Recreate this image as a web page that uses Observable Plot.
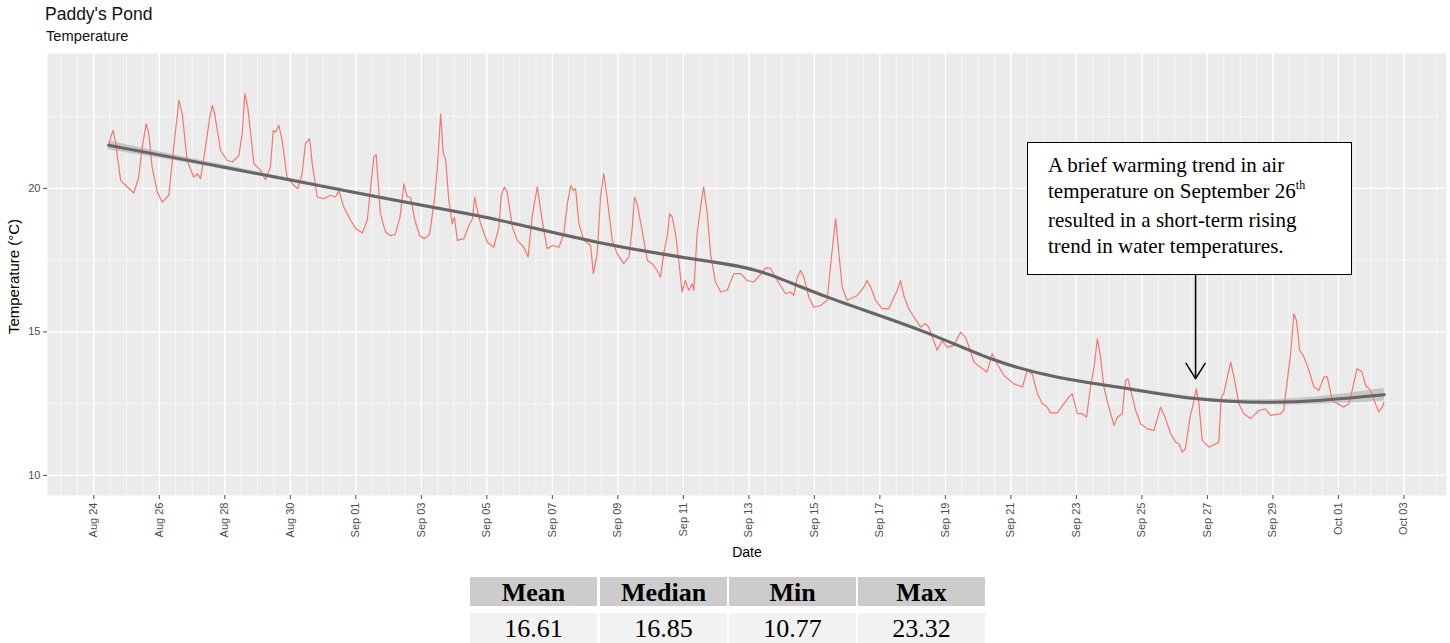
<!DOCTYPE html>
<html>
<head>
<meta charset="utf-8">
<script src="https://cdn.jsdelivr.net/npm/d3@7"></script>
<script src="https://cdn.jsdelivr.net/npm/@observablehq/plot@0.6"></script>
<style>
  html, body { margin: 0; padding: 0; background: #fff; }
  #wrap { position: relative; width: 1450px; height: 643px; overflow: hidden; font-family: "Liberation Sans", Arial, sans-serif; }
  #title { position: absolute; left: 45px; top: 4px; font-size: 17.5px; color: #111; white-space: nowrap; }
  #subtitle { position: absolute; left: 46px; top: 28px; font-size: 14.7px; color: #111; white-space: nowrap; }
  #chart { position: absolute; left: 0; top: 50px; }
  #note { position: absolute; left: 1027px; top: 142px; width: 325px; height: 133px; box-sizing: border-box;
          border: 1.3px solid #000; background: #fff; font-family: "Liberation Serif", "Times New Roman", serif;
          font-size: 21px; line-height: 26px; padding: 9px 0 0 20px; color: #000; white-space: nowrap; }
  #note sup { font-size: 12px; vertical-align: 0; position: relative; top: -9px; }
  .cell { position: absolute; width: 127px; text-align: center; font-family: "Liberation Serif", "Times New Roman", serif;
          font-size: 26px; color: #000; }
  .hd { background: #cccccc; font-weight: bold; height: 29px; line-height: 31px; top: 577px; }
  .vl { background: #f2f2f2; height: 30px; line-height: 32px; top: 613px; }
</style>
</head>
<body>
<div id="wrap">
  <div id="title">Paddy's Pond</div>
  <div id="subtitle">Temperature</div>
  <div id="chart"></div>
  <div id="note">A brief warming trend in air<br>temperature on September 26<sup>th</sup><br>resulted in a short-term rising<br>trend in water temperatures.</div>
</div>
<script>
// ---------- data ----------
const startDate = "2019-08-24T00:00Z";           // day offsets below are measured from this instant
// water temperature (°C) – day offset since Aug 24 00:00
const tempDays = [0.46,0.53,0.59,0.66,0.82,0.92,1.22,1.37,1.48,1.60,1.68,1.78,1.94,2.09,2.29,2.44,2.60,2.70,2.85,3.05,3.16,3.26,3.41,3.54,3.62,3.69,3.87,4.07,4.23,4.43,4.53,4.61,4.70,4.89,5.09,5.24,5.39,5.48,5.55,5.65,5.75,5.90,6.11,6.23,6.36,6.46,6.59,6.67,6.82,7.02,7.23,7.38,7.48,7.63,7.84,8.00,8.20,8.35,8.45,8.55,8.62,8.75,8.90,9.05,9.20,9.35,9.47,9.57,9.67,9.80,9.95,10.10,10.25,10.40,10.49,10.59,10.67,10.74,10.84,10.94,11.01,11.10,11.30,11.45,11.56,11.63,11.71,11.81,12.01,12.21,12.37,12.44,12.54,12.62,12.78,12.93,13.13,13.26,13.38,13.54,13.69,13.84,14.00,14.20,14.35,14.46,14.56,14.64,14.71,14.81,14.96,15.17,15.25,15.37,15.47,15.57,15.67,15.83,15.98,16.18,16.34,16.44,16.51,16.59,16.74,16.90,17.05,17.20,17.30,17.40,17.52,17.58,17.66,17.76,17.86,17.96,18.06,18.16,18.27,18.32,18.42,18.54,18.62,18.73,18.83,18.98,19.14,19.34,19.54,19.75,19.95,20.15,20.36,20.51,20.66,20.82,21.12,21.27,21.37,21.48,21.58,21.68,21.83,21.98,22.19,22.39,22.52,22.65,22.75,22.85,23.00,23.31,23.51,23.61,23.72,23.87,24.07,24.27,24.43,24.53,24.63,24.73,24.88,25.04,25.24,25.39,25.49,25.60,25.75,25.90,26.05,26.26,26.46,26.61,26.76,26.87,27.07,27.27,27.43,27.58,27.79,28.09,28.35,28.50,28.65,28.81,28.96,29.11,29.21,29.42,29.62,29.77,29.87,30.03,30.18,30.31,30.43,30.54,30.64,30.74,30.84,30.99,31.15,31.25,31.40,31.50,31.57,31.66,31.81,31.96,32.16,32.37,32.57,32.72,32.88,33.03,33.13,33.23,33.33,33.47,33.57,33.66,33.74,33.84,33.95,34.05,34.25,34.35,34.42,34.50,34.61,34.71,34.81,34.96,35.11,35.32,35.57,35.77,35.93,36.23,36.33,36.44,36.54,36.64,36.72,36.82,36.95,37.10,37.25,37.40,37.56,37.66,37.81,37.97,38.17,38.32,38.42,38.57,38.72,38.83,38.98,39.13,39.23,39.34,39.39];
const tempValues = [21.50,21.85,22.02,21.61,20.28,20.16,19.84,20.39,21.44,22.25,21.91,20.74,19.87,19.52,19.76,21.44,23.07,22.60,20.98,20.39,20.51,20.34,21.44,22.48,22.89,22.60,21.32,20.98,20.92,21.15,21.91,23.30,22.83,20.86,20.63,20.30,20.74,22.02,21.96,22.20,21.67,20.39,20.10,19.99,20.51,21.56,21.73,20.86,19.70,19.64,19.76,19.70,19.93,19.35,18.89,18.60,18.45,18.90,20.00,21.09,21.18,19.12,18.50,18.35,18.40,19.00,20.16,19.70,19.70,18.90,18.35,18.25,18.40,19.60,20.74,22.60,21.21,21.03,19.58,18.77,19.00,18.19,18.25,18.71,18.94,19.70,19.23,18.77,18.13,17.95,18.65,19.76,20.05,19.87,18.65,18.19,17.95,17.61,19.00,20.05,18.89,17.90,18.01,17.95,18.42,19.47,20.10,19.93,19.99,18.77,18.19,18.01,17.03,17.72,19.70,20.51,19.70,18.19,17.72,17.38,17.61,18.65,19.70,19.47,18.54,17.49,17.38,17.14,16.91,17.72,18.42,19.12,19.00,18.42,17.49,16.39,16.79,16.45,16.68,16.45,18.42,19.47,20.05,19.12,17.72,16.74,16.39,16.45,17.03,17.03,16.79,16.74,17.00,17.23,17.22,16.88,16.33,16.39,16.27,16.91,17.14,16.91,16.21,15.86,15.92,16.10,17.61,18.94,17.72,16.56,16.10,16.27,16.56,16.79,16.56,16.10,15.81,15.81,16.21,16.45,16.79,16.27,15.81,15.52,15.17,15.29,15.17,14.82,14.36,14.70,14.47,14.53,14.99,14.82,14.36,13.95,13.77,13.60,14.24,13.89,13.48,13.19,13.08,13.66,13.54,12.85,12.50,12.38,12.18,12.18,12.50,12.73,12.85,12.15,12.15,12.03,13.08,13.77,14.76,14.12,13.08,12.38,11.74,12.03,12.15,13.31,13.37,12.96,12.26,11.80,11.63,11.57,12.38,11.98,11.45,11.16,11.10,10.81,10.93,12.03,12.50,13.02,12.50,11.22,11.10,10.99,11.10,11.16,12.73,12.85,13.43,13.95,13.43,12.50,12.15,11.98,12.26,12.32,12.09,12.15,12.26,13.31,14.24,15.63,15.40,14.36,14.12,13.66,13.08,12.96,13.43,13.43,12.61,12.50,12.38,12.50,12.96,13.72,13.60,13.14,12.96,12.50,12.21,12.38,12.55];

// smoothed trend (loess) and its confidence half-width
const smoothDays   = [0.45, 3, 6, 8, 10.3, 12.5, 15.6, 18.6, 20.4, 22.4, 25.2, 27.5, 29.5, 31.25, 33.6, 35.8, 37.5, 39.4];
const smoothValues = [21.50, 20.95, 20.29, 19.85, 19.35, 18.86, 18.07, 17.49, 17.08, 16.21, 15.07, 14.02, 13.40, 13.08, 12.68, 12.55, 12.62, 12.81];
const smoothBand   = [0.16, 0.09, 0.06, 0.05, 0.05, 0.05, 0.05, 0.05, 0.05, 0.05, 0.05, 0.05, 0.05, 0.05, 0.06, 0.09, 0.14, 0.22];

// axes
const xDomain = ["2019-08-22T14:04Z", "2019-10-04T07:12Z"];
const yDomain = [9.30, 24.70];
const xTickDates = ["2019-08-24","2019-08-26","2019-08-28","2019-08-30","2019-09-01","2019-09-03","2019-09-05","2019-09-07","2019-09-09","2019-09-11","2019-09-13","2019-09-15","2019-09-17","2019-09-19","2019-09-21","2019-09-23","2019-09-25","2019-09-27","2019-09-29","2019-10-01","2019-10-03"];
const xTickLabels = ["Aug 24","Aug 26","Aug 28","Aug 30","Sep 01","Sep 03","Sep 05","Sep 07","Sep 09","Sep 11","Sep 13","Sep 15","Sep 17","Sep 19","Sep 21","Sep 23","Sep 25","Sep 27","Sep 29","Oct 01","Oct 03"];
const yTicks = [10, 15, 20];
const yMinor = [12.5, 17.5, 22.5];

// annotation arrow (Sep 26 peak)
const arrowTime = "2019-09-26T15:20Z";
const arrowFrom = 16.97;
const arrowTo = 13.37;

// summary table
const statLabels = ["Mean", "Median", "Min", "Max"];
const statValues = ["16.61", "16.85", "10.77", "23.32"];

// ---------- build ----------
const base = new Date(startDate).getTime();
const toDate = d => new Date(base + d * 864e5);
const raw = tempDays.map((d, i) => ({t: toDate(d), v: tempValues[i]}));
const smooth = smoothDays.map((d, i) => ({t: toDate(d), v: smoothValues[i], lo: smoothValues[i] - smoothBand[i], hi: smoothValues[i] + smoothBand[i]}));
const xd = xDomain.map(s => new Date(s));
const ticks = xTickDates.map(s => new Date(s + "T00:00Z"));
const minorX = d3.utcHour.every(12).range(xd[0], xd[1]);

const chart = Plot.plot({
  width: 1450, height: 520,
  marginTop: 3, marginBottom: 75, marginLeft: 47, marginRight: 4,
  style: {fontFamily: "'Liberation Sans', Arial, sans-serif", background: "transparent", overflow: "visible"},
  x: {type: "utc", domain: xd},
  y: {domain: yDomain},
  marks: [
    Plot.frame({fill: "#ebebeb", stroke: null}),
    Plot.gridX(minorX, {stroke: "#fff", strokeOpacity: 1, strokeWidth: 0.6}),
    Plot.gridY(yMinor, {stroke: "#fff", strokeOpacity: 1, strokeWidth: 0.6}),
    Plot.gridX(ticks, {stroke: "#fff", strokeOpacity: 1, strokeWidth: 1.2}),
    Plot.gridY(yTicks, {stroke: "#fff", strokeOpacity: 1, strokeWidth: 1.2}),
    Plot.areaY(smooth, {x: "t", y1: "lo", y2: "hi", fill: "#999999", fillOpacity: 0.45, curve: "natural"}),
    Plot.lineY(raw, {x: "t", y: "v", stroke: "#F8766D", strokeWidth: 1.2}),
    Plot.lineY(smooth, {x: "t", y: "v", stroke: "#666666", strokeWidth: 3, curve: "natural"}),
    Plot.arrow([{t: new Date(arrowTime), a: arrowFrom, b: arrowTo}], {x: "t", y1: "a", y2: "b", stroke: "#000", strokeWidth: 1.5, headLength: 18, headAngle: 64}),
    Plot.axisX(ticks, {tickFormat: (d, i) => xTickLabels[i], tickRotate: -90, tickSize: 4, tickPadding: 3, fontSize: 11, color: "#4d4d4d", label: null}),
    Plot.axisY(yTicks, {tickSize: 4, tickPadding: 3, fontSize: 11, color: "#4d4d4d", label: null}),
    Plot.text(["Date"], {text: d => d, frameAnchor: "bottom", dy: 61, fontSize: 14, fill: "#000"}),
    Plot.text(["Temperature (°C)"], {text: d => d, frameAnchor: "left", textAnchor: "middle", dx: -33, dy: 2, rotate: -90, fontSize: 15, fill: "#000"})
  ]
});
document.getElementById("chart").appendChild(chart);

const wrap = document.getElementById("wrap");
const lefts = [470, 600, 729, 858];
statLabels.forEach((s, i) => {
  const h = document.createElement("div"); h.className = "cell hd"; h.style.left = lefts[i] + "px"; h.textContent = s; wrap.appendChild(h);
  const v = document.createElement("div"); v.className = "cell vl"; v.style.left = lefts[i] + "px"; v.textContent = statValues[i]; wrap.appendChild(v);
});
</script>
</body>
</html>
